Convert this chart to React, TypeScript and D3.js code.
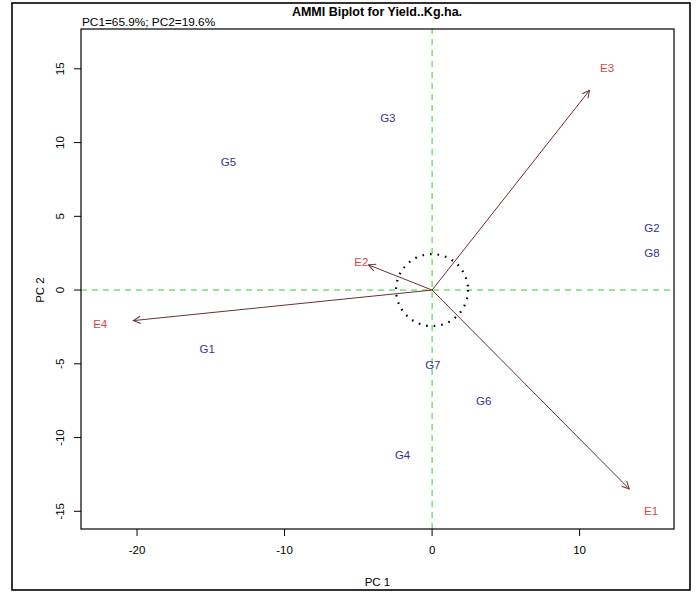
import * as d3 from 'd3'
import { useEffect } from 'react'

// genotype scores (PC1, PC2)
const genotypes = ['G1', 'G2', 'G3', 'G4', 'G5', 'G6', 'G7', 'G8']
const genoPC1 = [-15.25, 14.9, -3.0, -2.0, -13.8, 3.5, 0.05, 14.9]
const genoPC2 = [-4.0, 4.2, 11.7, -11.2, 8.7, -7.5, -5.1, 2.5]

// environment scores (PC1, PC2)
const environments = ['E1', 'E2', 'E3', 'E4']
const envPC1 = [14.85, -4.8, 11.86, -22.5]
const envPC2 = [-14.98, 1.9, 15.05, -2.3]

const xTicks = [-20, -10, 0, 10]
const yTicks = [-15, -10, -5, 0, 5, 10, 15]

const W = 699
const H = 592
const font = '"Liberation Sans", Arial, sans-serif'

export default function App() {
  useEffect(() => {
    document.body.style.margin = '0'
    document.body.style.overflow = 'hidden'
  }, [])

  const x = d3.scaleLinear().domain([-23.8, 16.4]).range([81, 674])
  const y = d3.scaleLinear().domain([-16.2, 17.7]).range([529, 29])
  const [x0, x1] = x.range()
  const [y0, y1] = y.range()

  const arrowShrink = 0.9
  const circleR = x(2.44) - x(0)

  return (
    <svg width={W} height={H} style={{ display: 'block', background: '#fff' }} fontFamily={font}>
      <defs>
        <marker id="head" viewBox="0 0 10 10" refX="9" refY="5" markerWidth="9" markerHeight="9" orient="auto-start-reverse" markerUnits="userSpaceOnUse">
          <path d="M1,1 L9,5 L1,9" fill="none" stroke="#6b3030" strokeWidth="1.1" />
        </marker>
      </defs>
      <rect x={12} y={3} width={678} height={587} fill="none" stroke="#000" strokeWidth={1.6} />

      <text x={377} y={16} textAnchor="middle" fontSize={12.5} fontWeight="bold">AMMI Biplot for Yield..Kg.ha.</text>
      <text x={82} y={26} fontSize={11.8}>PC1=65.9%; PC2=19.6%</text>

      {/* reference lines */}
      <line x1={x0} x2={x1} y1={y(0)} y2={y(0)} stroke="#33cc33" strokeDasharray="6,5" strokeWidth={1} />
      <line x1={x(0)} x2={x(0)} y1={y0} y2={y1} stroke="#33cc33" strokeDasharray="6,5" strokeWidth={1} />

      <circle cx={x(0)} cy={y(0)} r={circleR} fill="none" stroke="#000" strokeWidth={2.2} strokeDasharray="1.6,6" />

      {environments.map((e, i) => (
        <line key={e} x1={x(0)} y1={y(0)} x2={x(envPC1[i] * arrowShrink)} y2={y(envPC2[i] * arrowShrink)}
          stroke="#6b3030" strokeWidth={1} markerEnd="url(#head)" />
      ))}
      {environments.map((e, i) => (
        <text key={e} x={x(envPC1[i])} y={y(envPC2[i])} dy="0.35em" textAnchor="middle" fontSize={11.5} fill="#d04848">{e}</text>
      ))}
      {genotypes.map((g, i) => (
        <text key={g} x={x(genoPC1[i])} y={y(genoPC2[i])} dy="0.35em" textAnchor="middle" fontSize={11.5} fill="#33339a">{g}</text>
      ))}

      <rect x={x0} y={y1} width={x1 - x0} height={y0 - y1} fill="none" stroke="#000" strokeWidth={1.2} />

      {xTicks.map(t => (
        <g key={t}>
          <line x1={x(t)} x2={x(t)} y1={y0} y2={y0 + 7} stroke="#000" />
          <text x={x(t)} y={y0 + 25} textAnchor="middle" fontSize={11.5}>{t}</text>
        </g>
      ))}
      {yTicks.map(t => (
        <g key={t}>
          <line x1={x0 - 7} x2={x0} y1={y(t)} y2={y(t)} stroke="#000" />
          <text transform={`translate(${x0 - 17},${y(t)}) rotate(-90)`} textAnchor="middle" fontSize={11.5}>{t}</text>
        </g>
      ))}
      <text x={(x0 + x1) / 2} y={586} textAnchor="middle" fontSize={11.5}>PC 1</text>
      <text transform={`translate(44,${y(0)}) rotate(-90)`} textAnchor="middle" fontSize={11.5}>PC 2</text>
    </svg>
  )
}
